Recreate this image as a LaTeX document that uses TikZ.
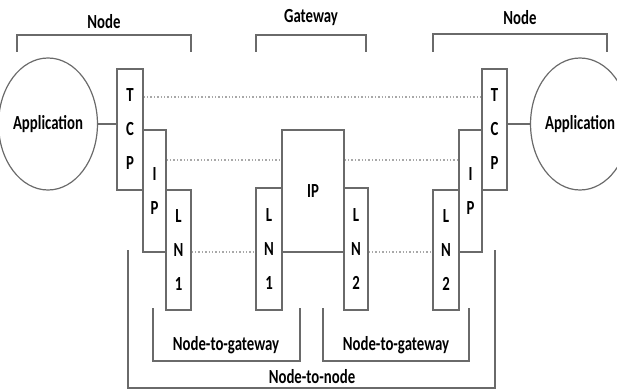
\documentclass[tikz,border=0pt]{standalone}
\usepackage{fontspec}
\setmainfont{Carlito}[FakeStretch=0.74]
\usetikzlibrary{shapes.geometric}
\definecolor{linegray}{HTML}{6A6A6A}
\definecolor{dotgray}{HTML}{A8A8A8}
\tikzset{
  every node/.style={font=\fontsize{20}{34}\selectfont\bfseries, inner sep=0pt},
  layer/.style={draw=linegray, line width=1.2pt, fill=white, rectangle, align=center},
  app/.style={draw=linegray, line width=1.2pt, ellipse},
  link/.style={draw=linegray, line width=1.2pt},
  peer/.style={draw=dotgray, line width=1.4pt, dotted},
  bracket/.style={draw=linegray, line width=1.2pt},
  caption/.style={text=black}
}
\begin{document}
\begin{tikzpicture}[x=1pt, y=-1pt]
\useasboundingbox (0,0) rectangle (617,390);

% applications
\node[app, minimum width=74pt, minimum height=132pt] (appL) at (48,124) {Application};
\node[app, minimum width=70pt, minimum height=132pt] (appR) at (580,124) {Application};

% left node stack
\node[layer, minimum width=26pt, minimum height=121pt] (tcpL) at (130,129.5) {T\\C\\P};
\node[layer, minimum width=23pt, minimum height=122pt] (ipL) at (154.5,191) {I\\P};
\node[layer, minimum width=25pt, minimum height=120pt] (lnL) at (178.5,250) {L\\N\\1};

% gateway stack
\node[layer, minimum width=26pt, minimum height=122pt] (lnGa) at (269,249) {L\\N\\1};
\node[layer, minimum width=62pt, minimum height=122pt] (ipG) at (313,191) {IP};
\node[layer, minimum width=24pt, minimum height=122pt] (lnGb) at (356,249) {L\\N\\2};

% right node stack
\node[layer, minimum width=26pt, minimum height=120pt] (lnR) at (446,250) {L\\N\\2};
\node[layer, minimum width=23pt, minimum height=122pt] (ipR) at (470.5,191) {I\\P};
\node[layer, minimum width=25pt, minimum height=121pt] (tcpR) at (494.5,129.5) {T\\C\\P};

% application to TCP
\draw[link] (appL.east) -- (appL.east -| tcpL.west);
\draw[link] (appR.west) -- (appR.west -| tcpR.east);

% peer-to-peer conversations
\draw[peer] (tcpL.east |- 0,97) -- (tcpR.west |- 0,97);
\draw[peer] (ipL.east |- 0,160) -- (ipG.west |- 0,160);
\draw[peer] (ipG.east |- 0,160) -- (ipR.west |- 0,160);
\draw[peer] (lnL.east |- 0,252) -- (lnGa.west |- 0,252);
\draw[peer] (lnGb.east |- 0,252) -- (lnR.west |- 0,252);

% top brackets
\draw[bracket] (17,52) -- (17,35) -- (191,35) -- (191,52);
\node[caption] (capNodeL) at (104,22) {Node};
\draw[bracket] (256,52) -- (256,35) -- (366,35) -- (366,52);
\node[caption] (capGw) at (311,18) {Gateway};
\draw[bracket] (433,52) -- (433,34) -- (607,34) -- (607,52);
\node[caption] (capNodeR) at (520,18) {Node};

% bottom brackets
\draw[bracket] (153,308) -- (153,361) -- (300,361) -- (300,308);
\node[caption] (capN2gL) at (226,345) {Node-to-gateway};
\draw[bracket] (323,308) -- (323,361) -- (469,361) -- (469,308);
\node[caption] (capN2gR) at (396,345) {Node-to-gateway};
\draw[bracket] (128,250) -- (128,388) -- (495,388) -- (495,250);
\node[caption] (capN2n) at (312,377) {Node-to-node};
\end{tikzpicture}
\end{document}
